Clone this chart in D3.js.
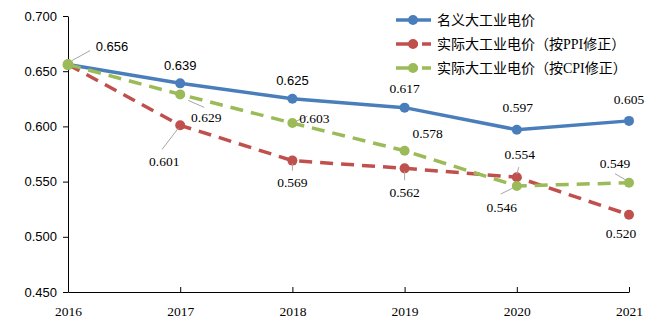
<!DOCTYPE html>
<html><head><meta charset="utf-8">
<script src="https://cdn.jsdelivr.net/npm/d3@7/dist/d3.min.js"></script>
<style>body{margin:0;background:#fff}</style>
</head><body><svg id="c" width="662" height="328"></svg>
<script>
const years = ["2016","2017","2018","2019","2020","2021"];
const seriesNames = ["名义大工业电价","实际大工业电价（按PPI修正）","实际大工业电价（按CPI修正）"];
const nominal = [0.656,0.639,0.625,0.617,0.597,0.605];
const ppi = [0.656,0.601,0.569,0.562,0.554,0.520];
const cpi = [0.656,0.629,0.603,0.578,0.546,0.549];
const yTicks = [0.450,0.500,0.550,0.600,0.650,0.700];

// layout: label offsets (px) relative to point, leader-line endpoints, font style per label
const nomLabelOff = [null,[0,-18],[0,-18],[0,-19],[1,-22],[0,-22]];
const ppiLabelOff = [null,[-16,36],[0,22],[0,24],[3,-23],[-8,19]];
const cpiLabelOff = [[44,-18],[26,23],[22,-5],[23,-17],[-15,21],[-14,-19]];
const ppiLeader = [null,[[-2,3],[-18,24]],[[0,3],[0,10]],[[0,3],[0,12]],[[0,-3],[2,-10]],null];
const cpiLeader = [[[4,-4],[22,-14]],[[8,6],[24,13]],[[4,-2],[15,-7]],null,[[-4,2],[-16,8]],[[-2,-2],[-14,-9]]];
const nomSans = [true,true,true,false,false,false];
const ppiSans = [false,false,false,false,false,false];
const cpiSans = [true,false,false,false,false,false];

const colors = ["#4A7EBB","#C0504D","#9BBB59"];
const svg = d3.select("#c");
const x = d3.scalePoint().domain(years).range([68,629]);
const y = d3.scaleLinear().domain([0.45,0.70]).range([292,16]);
const serif = "'Liberation Serif','Times New Roman',serif";
const sans = "'Liberation Sans',Arial,sans-serif";

// axes
const yAxis = d3.axisLeft(y).tickValues(yTicks).tickFormat(d3.format(".3f")).tickSize(5).tickSizeOuter(0);
const gy = svg.append("g").attr("transform","translate(68,0)").call(yAxis);
gy.selectAll("text").attr("font-family",sans).attr("font-size",13).attr("fill","#000").attr("x",-11);
gy.select(".domain").attr("stroke","#000");
gy.selectAll(".tick line").attr("stroke","#000");

const xAxis = d3.axisBottom(x).tickSize(-5).tickSizeOuter(0);
const gx = svg.append("g").attr("transform","translate(0,292)").call(xAxis);
gx.selectAll("text").attr("font-family",serif).attr("font-size",13.5).attr("fill","#000").attr("y",14);
gx.select(".domain").attr("stroke","#000");
gx.selectAll(".tick line").attr("stroke","#000");

const line = d3.line().x((d,i)=>x(years[i])).y(d=>y(d));
const all = [nominal,ppi,cpi];
const dashes = [null,"13,8","13,8"];
all.forEach((s,k)=>{
  svg.append("path").datum(s).attr("d",line).attr("fill","none")
    .attr("stroke",colors[k]).attr("stroke-width",3.5)
    .attr("stroke-dasharray",dashes[k]);
  svg.selectAll(null).data(s).enter().append("circle")
    .attr("cx",(d,i)=>x(years[i])).attr("cy",d=>y(d)).attr("r",5)
    .attr("fill",colors[k]);
});
svg.append("circle").attr("cx",x(years[0])).attr("cy",y(cpi[0])).attr("r",5.5).attr("fill",colors[2]);

function labels(s,offs,leaders,sansFlags){
  s.forEach((v,i)=>{
    const px=x(years[i]), py=y(v);
    if(leaders && leaders[i]){
      const [a,b]=leaders[i];
      svg.append("line").attr("x1",px+a[0]).attr("y1",py+a[1]).attr("x2",px+b[0]).attr("y2",py+b[1])
        .attr("stroke","#A6A6A6").attr("stroke-width",1);
    }
    if(offs[i]){
      svg.append("text").attr("x",px+offs[i][0]).attr("y",py+offs[i][1]).attr("dy","0.35em")
        .attr("text-anchor","middle").attr("font-family",sansFlags[i]?sans:serif)
        .attr("font-size",sansFlags[i]?13:13.5)
        .attr("fill","#000").text(d3.format(".3f")(v));
    }
  });
}
labels(nominal,nomLabelOff,null,nomSans);
labels(ppi,ppiLabelOff,ppiLeader,ppiSans);
labels(cpi,cpiLabelOff,cpiLeader,cpiSans);

// legend
seriesNames.forEach((n,k)=>{
  const ly = 20 + k*24;
  const g = svg.append("g");
  g.append("line").attr("x1",396).attr("x2",431).attr("y1",ly).attr("y2",ly)
    .attr("stroke",colors[k]).attr("stroke-width",3.5).attr("stroke-dasharray",dashes[k]?"22,4":null);
  g.append("circle").attr("cx",413).attr("cy",ly).attr("r",5).attr("fill",colors[k]);
  g.append("text").attr("x",437).attr("y",ly).attr("dy","0.36em")
    .attr("font-family","'Liberation Serif','Noto Sans CJK SC',serif").attr("font-size",14)
    .attr("fill","#000").text(n);
});
</script></body></html>
